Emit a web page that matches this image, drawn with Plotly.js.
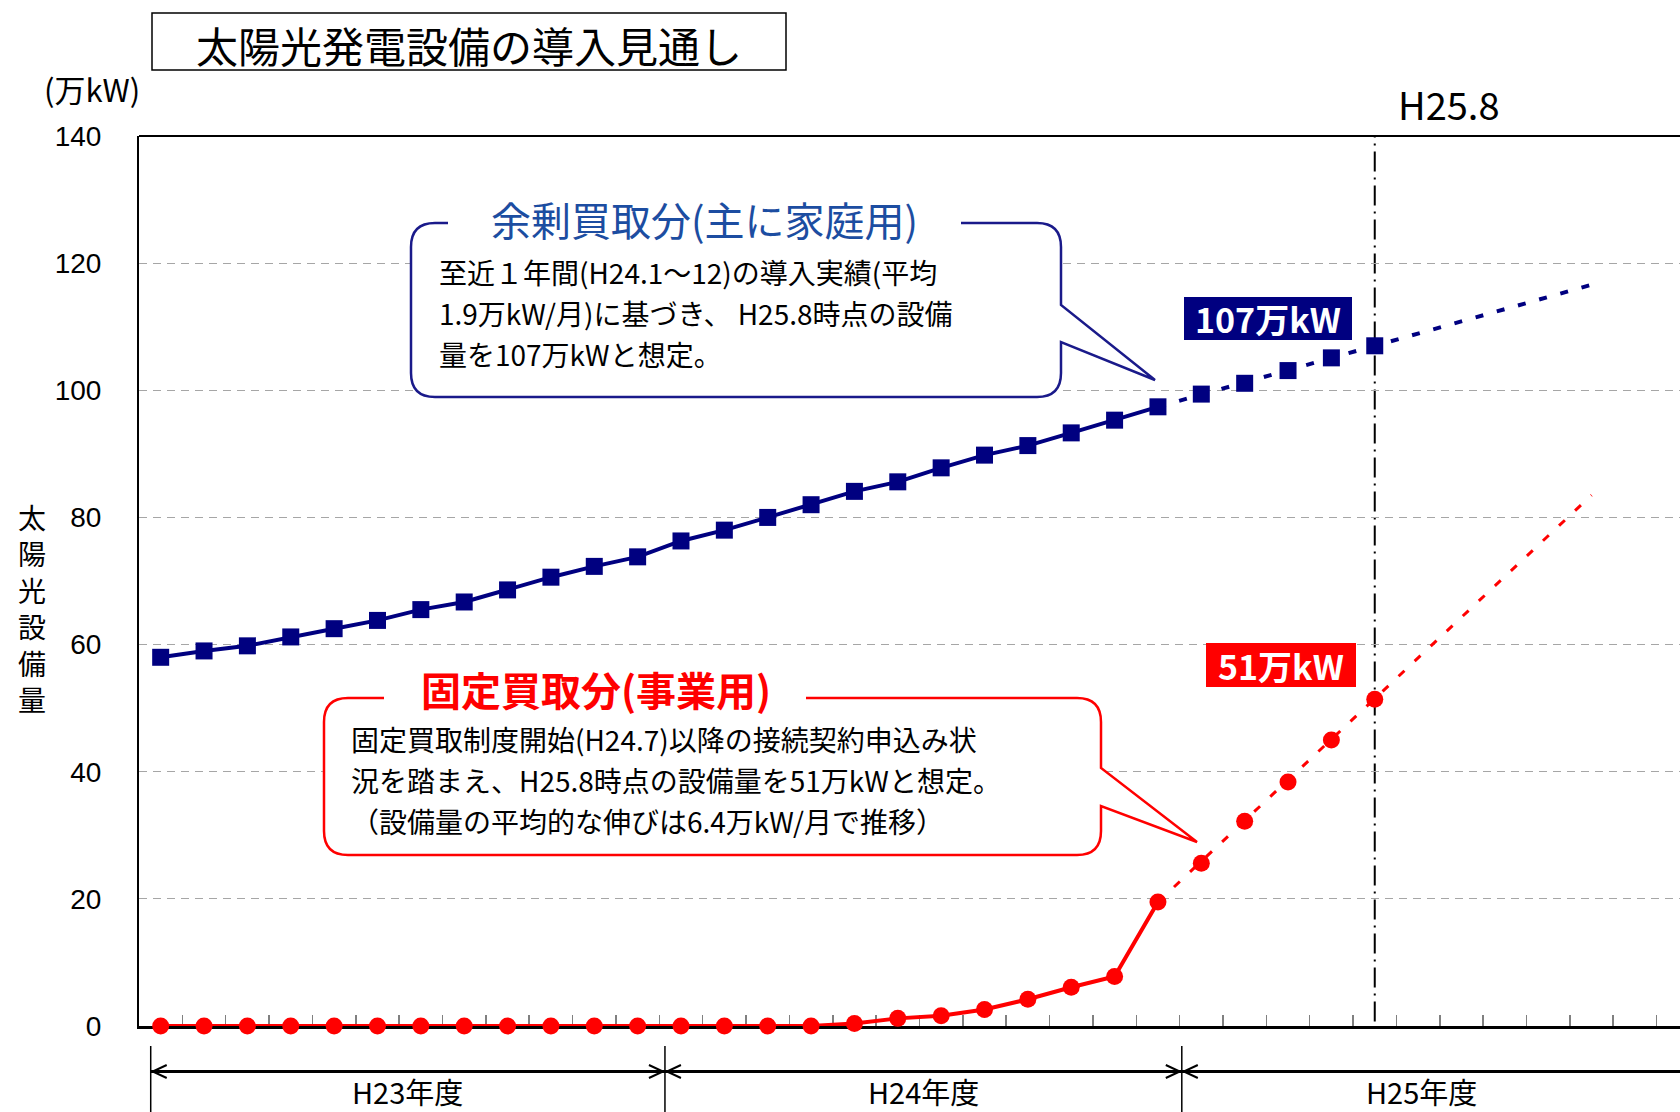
<!DOCTYPE html>
<html><head><meta charset="utf-8">
<script src="https://cdn.plot.ly/plotly-3.0.1.min.js"></script>
<style>html,body{margin:0;padding:0;background:#fff}#chart{width:1680px;height:1112px}</style>
</head><body><div id="chart"></div>
<script>
// ---------- data ----------
const months = ['H23.4','H23.5','H23.6','H23.7','H23.8','H23.9','H23.10','H23.11','H23.12',
  'H24.1','H24.2','H24.3','H24.4','H24.5','H24.6','H24.7','H24.8','H24.9','H24.10','H24.11','H24.12',
  'H25.1','H25.2','H25.3','H25.4','H25.5','H25.6','H25.7','H25.8','H25.9','H25.10','H25.11','H25.12',
  'H26.1','H26.2','H26.3'];
const actualMonths = ['H23.4','H23.5','H23.6','H23.7','H23.8','H23.9','H23.10','H23.11','H23.12',
  'H24.1','H24.2','H24.3','H24.4','H24.5','H24.6','H24.7','H24.8','H24.9','H24.10','H24.11','H24.12',
  'H25.1','H25.2','H25.3'];
const forecastMonths = ['H25.4','H25.5','H25.6','H25.7','H25.8'];
const trendMonths = ['H25.3','H26.1'];

const surplusActual = [58.0,59.0,59.8,61.2,62.5,63.8,65.5,66.7,68.6,70.6,72.3,73.8,
  76.3,78.0,80.0,82.0,84.1,85.6,87.8,89.8,91.3,93.3,95.3,97.4];
const surplusForecast = [99.4,101.1,103.1,105.1,107.0];
const surplusTrend = [97.4,116.6];

const fixedActual = [0,0,0,0,0,0,0,0,0,0,0,0,0,0,0,0,0.4,1.2,1.6,2.6,4.2,6.1,7.8,19.5];
const fixedForecast = [25.6,32.2,38.4,45.0,51.4];
const fixedTrend = [19.5,83.5];

const yTicks = [0,20,40,60,80,100,120,140];
const fiscalYears = ['H23年度','H24年度','H25年度'];
const fiscalBounds = [-0.23, 11.63, 23.55];   // (month index)
const fiscalEnd = 36;
const markMonth = 'H25.8';

const surplusNote = ['至近１年間(H24.1～12)の導入実績(平均', '1.9万kW/月)に基づき、 H25.8時点の設備', '量を107万kWと想定。'];
const fixedNote = ['固定買取制度開始(H24.7)以降の接続契約申込み状', '況を踏まえ、H25.8時点の設備量を51万kWと想定。', '（設備量の平均的な伸びは6.4万kW/月で推移）'];

// ---------- layout helpers ----------
const ML = 139, MT = 136, PW = 1541, PH = 890;
const fx = x => (x - ML) / PW;            // page px -> paper x
const fy = y => (MT + PH - y) / PH;       // page px -> paper y
const P = (x, y) => fx(x).toFixed(5) + ',' + fy(y).toFixed(5);

const NARROW = '"Liberation Sans Narrow", "Noto Sans CJK JP", sans-serif';
const CJK = '"Noto Sans CJK JP", sans-serif';
const NAVY = '#000080', RED = '#ff0000';

function calloutPath(x0, y0, x1, y1, r, ta, tb, tx, ty) {
  return 'M' + P(x0 + r, y0) + ' L' + P(x1 - r, y0) + ' Q' + P(x1, y0) + ' ' + P(x1, y0 + r) +
    ' L' + P(x1, ta) + ' L' + P(tx, ty) + ' L' + P(x1, tb) +
    ' L' + P(x1, y1 - r) + ' Q' + P(x1, y1) + ' ' + P(x1 - r, y1) +
    ' L' + P(x0 + r, y1) + ' Q' + P(x0, y1) + ' ' + P(x0, y1 - r) +
    ' L' + P(x0, y0 + r) + ' Q' + P(x0, y0) + ' ' + P(x0 + r, y0) + ' Z';
}

// ---------- traces ----------
const traces = [
  {x: trendMonths, y: surplusTrend, mode: 'lines', line: {color: NAVY, width: 4, dash: '8px,14px'}, cliponaxis: false},
  {x: trendMonths, y: fixedTrend, mode: 'lines', line: {color: RED, width: 3, dash: '8px,14px'}, cliponaxis: false},
  {x: actualMonths, y: surplusActual, mode: 'lines+markers', line: {color: NAVY, width: 4},
   marker: {symbol: 'square', size: 17, color: NAVY}, cliponaxis: false},
  {x: forecastMonths, y: surplusForecast, mode: 'markers', marker: {symbol: 'square', size: 17, color: NAVY}, cliponaxis: false},
  {x: actualMonths, y: fixedActual, mode: 'lines+markers', line: {color: RED, width: 4},
   marker: {symbol: 'circle', size: 17, color: RED}, cliponaxis: false},
  {x: forecastMonths, y: fixedForecast, mode: 'markers', marker: {symbol: 'circle', size: 17, color: RED}, cliponaxis: false}
];

// ---------- shapes ----------
const shapes = [];
shapes.push({type: 'line', xref: 'paper', yref: 'paper', x0: 0, x1: 1, y0: 1, y1: 1, line: {color: '#000', width: 2}, layer: 'below'});
const mIdx = months.indexOf(markMonth);
shapes.push({type: 'line', xref: 'x', yref: 'paper', x0: mIdx, x1: mIdx, y0: 0.005, y1: 1,
  line: {color: '#000', width: 2, dash: '20px,6px,2px,6px'}, layer: 'below'});
const arrowY = fy(1071.5), sepTop = fy(1046), sepBot = fy(1112);
shapes.push({type: 'line', xref: 'x', yref: 'paper', x0: fiscalBounds[0], x1: fiscalEnd, y0: arrowY, y1: arrowY,
  line: {color: '#000', width: 3}});
const armX = 14 / 43.36, armY = 6.5 / PH, gap = 2 / 43.36;
fiscalBounds.forEach((b, i) => {
  shapes.push({type: 'line', xref: 'x', yref: 'paper', x0: b, x1: b, y0: sepTop, y1: sepBot, line: {color: '#000', width: 1.5}});
  const t = b + gap;
  shapes.push({type: 'path', xref: 'x', yref: 'paper', line: {color: '#000', width: 2},
    path: 'M' + (t + armX) + ',' + (arrowY + armY) + ' L' + t + ',' + arrowY + ' L' + (t + armX) + ',' + (arrowY - armY)});
  if (i > 0) {
    const u = b - gap;
    shapes.push({type: 'path', xref: 'x', yref: 'paper', line: {color: '#000', width: 2},
      path: 'M' + (u - armX) + ',' + (arrowY + armY) + ' L' + u + ',' + arrowY + ' L' + (u - armX) + ',' + (arrowY - armY)});
  }
});
// callouts, with a white gap in the top border for the heading
shapes.push({type: 'path', xref: 'paper', yref: 'paper', fillcolor: '#fff', line: {color: '#1a1a8a', width: 2.5},
  path: calloutPath(411, 223, 1061, 397, 24, 305, 342, 1155, 380)});
shapes.push({type: 'rect', xref: 'paper', yref: 'paper', x0: fx(448), x1: fx(961), y0: fy(219), y1: fy(227),
  fillcolor: '#fff', line: {width: 0}});
shapes.push({type: 'path', xref: 'paper', yref: 'paper', fillcolor: '#fff', line: {color: RED, width: 2.5},
  path: calloutPath(324, 698, 1101, 855, 24, 768, 806, 1197, 842)});
shapes.push({type: 'rect', xref: 'paper', yref: 'paper', x0: fx(384), x1: fx(806), y0: fy(694), y1: fy(702),
  fillcolor: '#fff', line: {width: 0}});
// value tags
shapes.push({type: 'rect', xref: 'paper', yref: 'paper', x0: fx(1184), x1: fx(1352), y0: fy(297), y1: fy(340),
  fillcolor: NAVY, line: {width: 0}});
shapes.push({type: 'rect', xref: 'paper', yref: 'paper', x0: fx(1206), x1: fx(1356), y0: fy(643), y1: fy(687),
  fillcolor: RED, line: {width: 0}});
// title box
shapes.push({type: 'rect', xref: 'paper', yref: 'paper', x0: fx(152), x1: fx(786), y0: fy(13), y1: fy(70),
  fillcolor: 'rgba(0,0,0,0)', line: {color: '#000', width: 1.5}});

// ---------- annotations ----------
const ann = (x, y, text, font, extra) => Object.assign({xref: 'paper', yref: 'paper', x: fx(x), y: fy(y),
  text: text, showarrow: false, font: font, xanchor: 'center', yanchor: 'middle'}, extra || {});

const annotations = [
  ann(469, 44, '太陽光発電設備の導入見通し', {family: NARROW, size: 42, color: '#000'}),
  ann(92, 89, '(万kW)', {family: NARROW, size: 31, color: '#000'}),
  ann(32, 608, '太<br>陽<br>光<br>設<br>備<br>量', {family: CJK, size: 28, color: '#000'}),
  ann(1449, 103, 'H25.8', {family: NARROW, size: 38, color: '#000'}),
  ann(704, 219, '余剰買取分(主に家庭用)', {family: NARROW, size: 40, color: '#1c4da1'}),
  ann(596, 689, '<b>固定買取分(事業用)</b>', {family: NARROW, size: 40, color: RED}),
  ann(1268, 318, '<b>107万kW</b>', {family: NARROW, size: 34, color: '#fff'}),
  ann(1281, 665, '<b>51万kW</b>', {family: NARROW, size: 34, color: '#fff'})
];
// callout body text, one annotation per line
const surplusLineY = [272, 313, 354], fixedLineY = [739, 780, 821];
surplusNote.forEach((t, i) => annotations.push(ann(437, surplusLineY[i], t, {family: NARROW, size: 28, color: '#000'}, {xanchor: 'left', align: 'left'})));
fixedNote.forEach((t, i) => annotations.push(ann(349, fixedLineY[i], t, {family: NARROW, size: 28, color: '#000'}, {xanchor: 'left', align: 'left'})));

const segEnds = [fiscalBounds[1], fiscalBounds[2], 34.6];
fiscalYears.forEach((lab, i) => {
  annotations.push({xref: 'x', yref: 'paper', x: (fiscalBounds[i] + segEnds[i]) / 2, y: fy(1091),
    text: lab, showarrow: false, font: {family: NARROW, size: 29, color: '#000'}, xanchor: 'center', yanchor: 'middle'});
});

const layout = {
  width: 1680, height: 1112, autosize: false,
  margin: {l: ML, r: 0, t: MT, b: 1112 - MT - PH, pad: 0},
  paper_bgcolor: '#fff', plot_bgcolor: '#fff', showlegend: false,
  xaxis: {type: 'category', categoryorder: 'array', categoryarray: months, range: [-0.5, 35.04],
    tickmode: 'array', tickvals: months, ticktext: months, showticklabels: false,
    tickson: 'boundaries', ticks: 'inside', ticklen: 11, tickwidth: 1.5, tickcolor: '#808080',
    showgrid: false, zeroline: false, showline: true, linecolor: '#000', linewidth: 3, layer: 'below traces', fixedrange: true},
  yaxis: {range: [0, 140], tickmode: 'array', tickvals: yTicks, ticktext: yTicks.map(String),
    showgrid: true, gridcolor: '#a6a6a6', gridwidth: 1, griddash: '8px,6px', zeroline: false,
    showline: true, linecolor: '#000', linewidth: 2, ticks: '', ticklabelstandoff: 30,
    tickfont: {family: '"Liberation Sans", Arial, sans-serif', size: 28, color: '#000'}, layer: 'below traces', fixedrange: true},
  shapes: shapes, annotations: annotations
};

Plotly.newPlot('chart', traces, layout, {staticPlot: true, displayModeBar: false});
</script></body></html>
